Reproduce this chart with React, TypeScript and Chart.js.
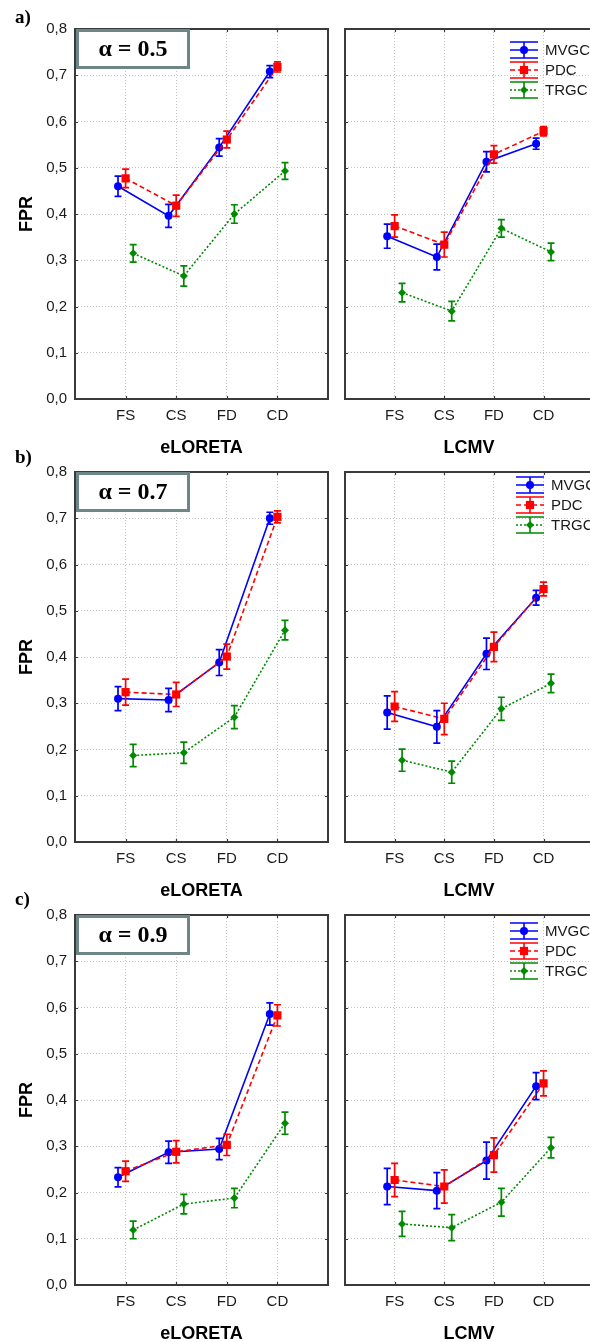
import React, { useEffect, useRef } from 'react';
import { Chart, registerables } from 'chart.js';

Chart.register(...registerables);

// ---------- data ----------
const categories = ['FS', 'CS', 'FD', 'CD'];
const seriesNames = ['MVGC', 'PDC', 'TRGC'];
const methods = ['eLORETA', 'LCMV'];
const alphaLabels = ['α = 0.5', 'α = 0.7', 'α = 0.9'];
const panelLetters = ['a)', 'b)', 'c)'];
const yTickValues = [0, 0.1, 0.2, 0.3, 0.4, 0.5, 0.6, 0.7, 0.8];

// alpha = 0.5
const a_eLORETA_MVGC = [0.460, 0.396, 0.544, 0.708];
const a_eLORETA_MVGC_err = [0.022, 0.025, 0.019, 0.013];
const a_eLORETA_PDC = [0.477, 0.418, 0.561, 0.718];
const a_eLORETA_PDC_err = [0.020, 0.023, 0.018, 0.011];
const a_eLORETA_TRGC = [0.315, 0.266, 0.400, 0.493];
const a_eLORETA_TRGC_err = [0.019, 0.022, 0.020, 0.018];

const a_LCMV_MVGC = [0.352, 0.307, 0.513, 0.552];
const a_LCMV_MVGC_err = [0.026, 0.028, 0.022, 0.012];
const a_LCMV_PDC = [0.374, 0.334, 0.529, 0.579];
const a_LCMV_PDC_err = [0.024, 0.027, 0.019, 0.010];
const a_LCMV_TRGC = [0.230, 0.190, 0.369, 0.318];
const a_LCMV_TRGC_err = [0.020, 0.021, 0.019, 0.019];

// alpha = 0.7
const b_eLORETA_MVGC = [0.310, 0.307, 0.388, 0.700];
const b_eLORETA_MVGC_err = [0.026, 0.025, 0.028, 0.013];
const b_eLORETA_PDC = [0.324, 0.319, 0.401, 0.703];
const b_eLORETA_PDC_err = [0.028, 0.026, 0.027, 0.013];
const b_eLORETA_TRGC = [0.187, 0.193, 0.270, 0.458];
const b_eLORETA_TRGC_err = [0.024, 0.023, 0.025, 0.021];

const b_LCMV_MVGC = [0.280, 0.249, 0.407, 0.528];
const b_LCMV_MVGC_err = [0.036, 0.035, 0.034, 0.016];
const b_LCMV_PDC = [0.293, 0.266, 0.422, 0.547];
const b_LCMV_PDC_err = [0.032, 0.034, 0.032, 0.015];
const b_LCMV_TRGC = [0.177, 0.151, 0.288, 0.343];
const b_LCMV_TRGC_err = [0.024, 0.024, 0.025, 0.020];

// alpha = 0.9
const c_eLORETA_MVGC = [0.233, 0.287, 0.294, 0.586];
const c_eLORETA_MVGC_err = [0.021, 0.024, 0.023, 0.024];
const c_eLORETA_PDC = [0.246, 0.288, 0.303, 0.583];
const c_eLORETA_PDC_err = [0.022, 0.024, 0.023, 0.023];
const c_eLORETA_TRGC = [0.119, 0.175, 0.188, 0.350];
const c_eLORETA_TRGC_err = [0.019, 0.021, 0.021, 0.024];

const c_LCMV_MVGC = [0.213, 0.204, 0.269, 0.430];
const c_LCMV_MVGC_err = [0.039, 0.039, 0.040, 0.029];
const c_LCMV_PDC = [0.227, 0.213, 0.281, 0.436];
const c_LCMV_PDC_err = [0.036, 0.036, 0.037, 0.027];
const c_LCMV_TRGC = [0.132, 0.124, 0.179, 0.297];
const c_LCMV_TRGC_err = [0.027, 0.028, 0.030, 0.022];

// ---------- styles / layout ----------
const SANS = '"Liberation Sans", Arial, sans-serif';
const SERIF = '"Liberation Serif", "Times New Roman", serif';
const FRAME = '#3a3a3a';
const GRID = '#c4c4c4';
const TEXT = '#1a1a1a';

const SERIES_STYLE = [
  { color: '#0000ff', dash: [] as number[], point: 'circle', radius: 4, dx: -0.15, order: 1 },
  { color: '#ff0000', dash: [5, 3], point: 'rect', radius: 5.8, dx: 0, order: 0 },
  { color: '#008a00', dash: [2, 2], point: 'rectRot', radius: 4, dx: 0.15, order: 2 },
];

const PLOT_TOP = [29, 472, 915];
const PLOT_H = 370;
const PAD_TOP = 25;
const X_AXIS_H = 62;
const LEGEND_X = [165, 171, 165];
const LEGEND_Y = [21, 13, 16];

type PanelDef = {
  row: number;
  col: number;
  means: number[][];
  errs: number[][];
};

const panels: PanelDef[] = [
  { row: 0, col: 0, means: [a_eLORETA_MVGC, a_eLORETA_PDC, a_eLORETA_TRGC], errs: [a_eLORETA_MVGC_err, a_eLORETA_PDC_err, a_eLORETA_TRGC_err] },
  { row: 0, col: 1, means: [a_LCMV_MVGC, a_LCMV_PDC, a_LCMV_TRGC], errs: [a_LCMV_MVGC_err, a_LCMV_PDC_err, a_LCMV_TRGC_err] },
  { row: 1, col: 0, means: [b_eLORETA_MVGC, b_eLORETA_PDC, b_eLORETA_TRGC], errs: [b_eLORETA_MVGC_err, b_eLORETA_PDC_err, b_eLORETA_TRGC_err] },
  { row: 1, col: 1, means: [b_LCMV_MVGC, b_LCMV_PDC, b_LCMV_TRGC], errs: [b_LCMV_MVGC_err, b_LCMV_PDC_err, b_LCMV_TRGC_err] },
  { row: 2, col: 0, means: [c_eLORETA_MVGC, c_eLORETA_PDC, c_eLORETA_TRGC], errs: [c_eLORETA_MVGC_err, c_eLORETA_PDC_err, c_eLORETA_TRGC_err] },
  { row: 2, col: 1, means: [c_LCMV_MVGC, c_LCMV_PDC, c_LCMV_TRGC], errs: [c_LCMV_MVGC_err, c_LCMV_PDC_err, c_LCMV_TRGC_err] },
];

function drawMarker(ctx: CanvasRenderingContext2D, style: string, x: number, y: number, r: number) {
  ctx.beginPath();
  if (style === 'circle') {
    ctx.arc(x, y, r, 0, Math.PI * 2);
  } else if (style === 'rect') {
    const s = Math.SQRT1_2 * r;
    ctx.rect(x - s, y - s, 2 * s, 2 * s);
  } else {
    ctx.moveTo(x - r, y);
    ctx.lineTo(x, y - r);
    ctx.lineTo(x + r, y);
    ctx.lineTo(x, y + r);
    ctx.closePath();
  }
  ctx.fill();
}

function Panel({ def }: { def: PanelDef }) {
  const ref = useRef<HTMLCanvasElement>(null);
  const isLeft = def.col === 0;
  const canvasLeft = isLeft ? 0 : 337;
  const canvasW = isLeft ? 336 : 262;
  const canvasTop = PLOT_TOP[def.row] - PAD_TOP;
  const canvasH = PAD_TOP + PLOT_H + X_AXIS_H;

  useEffect(() => {
    const canvas = ref.current;
    if (!canvas) return;

    const datasets = seriesNames.map((name, k) => {
      const st = SERIES_STYLE[k];
      return {
        label: name,
        data: def.means[k].map((v, i) => ({ x: i + 1 + st.dx, y: v })),
        errors: def.errs[k],
        borderColor: st.color,
        backgroundColor: st.color,
        borderWidth: 1.6,
        borderDash: st.dash,
        pointStyle: st.point,
        pointRadius: st.radius,
        pointBorderWidth: 0,
        pointBackgroundColor: st.color,
        tension: 0,
        fill: false,
        order: st.order,
      };
    });

    const panelPlugin = {
      id: 'panelDecor',
      beforeDatasetsDraw(chart: any) {
        const { ctx, chartArea: ca, scales } = chart;
        ctx.save();
        ctx.strokeStyle = FRAME;
        ctx.lineWidth = 2;
        ctx.setLineDash([]);
        ctx.strokeRect(ca.left, ca.top, ca.right - ca.left, ca.bottom - ca.top);
        ctx.lineWidth = 1.2;
        ctx.beginPath();
        scales.y.ticks.forEach((t: any) => {
          const y = Math.round(scales.y.getPixelForValue(t.value)) + 0.5;
          ctx.moveTo(ca.left, y); ctx.lineTo(ca.left + 3, y);
          ctx.moveTo(ca.right, y); ctx.lineTo(ca.right - 3, y);
        });
        scales.x.ticks.forEach((t: any) => {
          const x = Math.round(scales.x.getPixelForValue(t.value)) + 0.5;
          ctx.moveTo(x, ca.top); ctx.lineTo(x, ca.top + 3);
          ctx.moveTo(x, ca.bottom); ctx.lineTo(x, ca.bottom - 3);
        });
        ctx.stroke();
        ctx.restore();
      },
      afterDatasetsDraw(chart: any) {
        const { ctx, scales } = chart;
        ctx.save();
        chart.data.datasets.forEach((ds: any, k: number) => {
          const st = SERIES_STYLE[k];
          ctx.strokeStyle = st.color;
          ctx.lineWidth = 1.7;
          ctx.setLineDash([]);
          ds.data.forEach((p: any, i: number) => {
            const e = ds.errors[i];
            const x = scales.x.getPixelForValue(p.x);
            const y1 = scales.y.getPixelForValue(p.y + e);
            const y2 = scales.y.getPixelForValue(p.y - e);
            ctx.beginPath();
            ctx.moveTo(x, y1); ctx.lineTo(x, y2);
            ctx.moveTo(x - 3.5, y1); ctx.lineTo(x + 3.5, y1);
            ctx.moveTo(x - 3.5, y2); ctx.lineTo(x + 3.5, y2);
            ctx.stroke();
          });
        });
        ctx.restore();
      },
      afterDraw(chart: any) {
        const { ctx, chartArea: ca } = chart;
        ctx.save();
        if (isLeft) {
          const bx = ca.left + 2.5, by = ca.top + 1.5, bw = 111, bh = 37;
          ctx.fillStyle = '#ffffff';
          ctx.fillRect(bx, by, bw, bh);
          ctx.strokeStyle = '#6d8686';
          ctx.lineWidth = 3;
          ctx.strokeRect(bx, by, bw, bh);
          ctx.fillStyle = '#000000';
          ctx.font = `bold 24px ${SERIF}`;
          ctx.textAlign = 'center';
          ctx.textBaseline = 'middle';
          ctx.fillText(alphaLabels[def.row], bx + bw / 2, by + bh / 2 + 1);
        } else {
          const lx = LEGEND_X[def.row], ly = LEGEND_Y[def.row];
          seriesNames.forEach((name, k) => {
            const st = SERIES_STYLE[k];
            const x0 = ca.left + lx, x1 = x0 + 28, xc = (x0 + x1) / 2;
            const y = ca.top + ly + k * 20;
            ctx.strokeStyle = st.color;
            ctx.fillStyle = st.color;
            ctx.lineWidth = 1.6;
            ctx.setLineDash([]);
            ctx.beginPath();
            ctx.moveTo(x0, y - 8); ctx.lineTo(x1, y - 8);
            ctx.moveTo(x0, y + 8); ctx.lineTo(x1, y + 8);
            ctx.moveTo(xc, y - 8); ctx.lineTo(xc, y + 8);
            ctx.stroke();
            ctx.lineWidth = 1.5;
            ctx.setLineDash(st.dash);
            ctx.beginPath();
            ctx.moveTo(x0, y); ctx.lineTo(x1, y);
            ctx.stroke();
            ctx.setLineDash([]);
            drawMarker(ctx, st.point, xc, y, st.radius);
            ctx.fillStyle = TEXT;
            ctx.font = `15px ${SANS}`;
            ctx.textAlign = 'left';
            ctx.textBaseline = 'middle';
            ctx.fillText(name, x1 + 7, y + 1);
          });
        }
        ctx.restore();
      },
    };

    const chart = new Chart(canvas, {
      type: 'line',
      data: { datasets: datasets as any },
      options: {
        responsive: false,
        animation: false,
        events: [],
        layout: { padding: { top: PAD_TOP, bottom: 0, left: isLeft ? 0 : 8, right: isLeft ? 8 : 1 } },
        plugins: { legend: { display: false }, tooltip: { enabled: false } },
        scales: {
          x: {
            type: 'linear',
            min: 0,
            max: 5,
            afterBuildTicks: (s: any) => {
              s.ticks = categories.map((_, i) => ({ value: i + 1 }));
            },
            afterFit: (s: any) => { s.height = X_AXIS_H; },
            ticks: {
              callback: (v: any) => categories[Math.round(Number(v)) - 1] ?? '',
              font: { size: 15, family: SANS },
              color: TEXT,
              padding: 8,
              autoSkip: false,
              maxRotation: 0,
            },
            grid: { color: GRID, lineWidth: 1, drawTicks: false },
            border: { display: false, dash: [1, 2] },
            title: {
              display: true,
              text: methods[def.col],
              font: { size: 18, weight: 'bold', family: SANS },
              color: '#000',
              padding: { top: 0, bottom: 2 },
            },
          },
          y: {
            type: 'linear',
            min: 0,
            max: 0.8,
            afterBuildTicks: (s: any) => {
              s.ticks = yTickValues.map((v) => ({ value: v }));
            },
            afterFit: (s: any) => { s.width = isLeft ? 75 : 0; },
            ticks: {
              display: isLeft,
              callback: (v: any) => Number(v).toFixed(1).replace('.', ','),
              font: { size: 15, family: SANS },
              color: TEXT,
              padding: 8,
            },
            grid: { color: GRID, lineWidth: 1, drawTicks: false },
            border: { display: false, dash: [1, 2] },
            title: {
              display: isLeft,
              text: 'FPR',
              font: { size: 18, weight: 'bold', family: SANS },
              color: '#000',
              padding: { top: 16, bottom: 0 },
            },
          },
        },
      } as any,
      plugins: [panelPlugin],
    });
    return () => chart.destroy();
  }, []);

  return (
    <canvas
      ref={ref}
      width={canvasW}
      height={canvasH}
      style={{ position: 'absolute', left: canvasLeft, top: canvasTop, width: canvasW, height: canvasH }}
    />
  );
}

const LETTER_TOP = [7, 447, 889];

export default function App() {
  return (
    <div style={{ position: 'absolute', left: 0, top: 0, width: 590, height: 1342, overflow: 'hidden', background: '#fff' }}>
      {panels.map((p, i) => (
        <Panel key={i} def={p} />
      ))}
      {panelLetters.map((t, i) => (
        <div
          key={t}
          style={{
            position: 'absolute', left: 15, top: LETTER_TOP[i], fontFamily: SERIF, fontWeight: 'bold',
            fontSize: 19, lineHeight: '19px', color: '#000',
          }}
        >
          {t}
        </div>
      ))}
    </div>
  );
}
